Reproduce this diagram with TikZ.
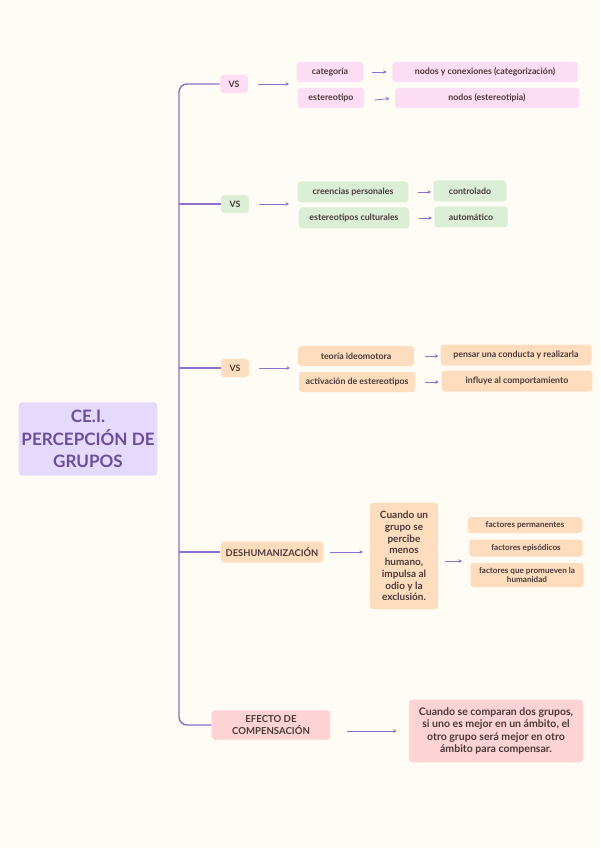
\documentclass[tikz,border=0pt]{standalone}
\usepackage{fontspec}
\setmainfont{Lato}
\usepackage{tikz}
\usetikzlibrary{arrows.meta}

\definecolor{bgcream}{HTML}{FEFCF5}
\definecolor{linec}{HTML}{8F70C8}
\definecolor{txtc}{HTML}{4B3A3A}
\definecolor{titc}{HTML}{6B4E9B}
\definecolor{lavfill}{HTML}{E6DAFC}
\definecolor{pinkfill}{HTML}{FDDDF3}
\definecolor{greenfill}{HTML}{DAEFD6}
\definecolor{peachfill}{HTML}{FDDDBE}
\definecolor{rosefill}{HTML}{FDD3D5}

\begin{document}
\begin{tikzpicture}[
    x=0.75pt, y=-0.75pt,
    every node/.style={font=\bfseries\fontsize{6.6}{8}\selectfont, align=center, text=txtc, inner sep=0pt},
    box/.style={rounded corners=2.5pt, minimum height=15pt},
    pinkbox/.style={box, fill=pinkfill},
    greenbox/.style={box, fill=greenfill},
    peachbox/.style={box, fill=peachfill},
    rosebox/.style={box, fill=rosefill},
    tree/.style={draw=linec, line width=1.1pt, rounded corners=6pt},
    arr/.style={draw=linec, line width=0.6pt, -{Stealth[length=2.6pt,width=2.6pt]}}
]
\useasboundingbox[fill=bgcream] (0,0) rectangle (600,848);

% centro
\node[box, fill=lavfill, minimum width=104pt, minimum height=55pt, text=titc,
      font=\bfseries\fontsize{12.8}{17}\selectfont] (cei) at (88,439) {CE.I.\\PERCEPCIÓN DE\\GRUPOS};

% rama 1
\node[pinkbox, minimum width=21pt, minimum height=13.5pt] (vs1) at (234,84) {VS};
\node[pinkbox, minimum width=50pt] (cat) at (330,72) {categoría};
\node[pinkbox, minimum width=50pt] (est) at (331,98) {estereotipo};
\node[pinkbox, minimum width=139pt] (nyc) at (485,72) {nodos y conexiones (categorización)};
\node[pinkbox, minimum width=138pt] (nes) at (487,98) {nodos (estereotipia)};
\coordinate (g1) at (289,84);

% rama 2
\node[greenbox, minimum width=21pt, minimum height=13.5pt] (vs2) at (235,204) {VS};
\node[greenbox, minimum width=83pt, minimum height=15.75pt] (cre) at (353,192) {creencias personales};
\node[greenbox, minimum width=83pt, minimum height=15.75pt] (ecu) at (354,218) {estereotipos culturales};
\node[greenbox, minimum width=55pt, minimum height=15.75pt] (ctl) at (470,191) {controlado};
\node[greenbox, minimum width=55pt, minimum height=15.75pt] (aut) at (471,217) {automático};
\coordinate (g2) at (289,204);

% rama 3
\node[peachbox, minimum width=21pt, minimum height=13.5pt] (vs3) at (235,368) {VS};
\node[peachbox, minimum width=87pt] (teo) at (356,356) {teoría ideomotora};
\node[peachbox, minimum width=87pt] (act) at (357,382) {activación de estereotipos};
\node[peachbox, minimum width=113pt, minimum height=15.75pt] (pen) at (516,355) {pensar una conducta y realizarla};
\node[peachbox, minimum width=113pt, minimum height=15.75pt] (inf) at (517,381) {influye al comportamiento};
\coordinate (g3) at (290,368);

% rama 4
\node[peachbox, minimum width=77pt, minimum height=15.75pt, font=\bfseries\fontsize{7}{8}\selectfont] (des) at (272,552) {DESHUMANIZACIÓN};
\node[peachbox, minimum width=51pt, minimum height=80pt, font=\bfseries\fontsize{7.5}{8.8}\selectfont] (cua) at (404,556)
    {Cuando un\\grupo se\\percibe\\menos\\humano,\\impulsa al\\odio y la\\exclusión.};
\node[peachbox, minimum width=86pt, minimum height=12pt, font=\bfseries\fontsize{6.1}{7.2}\selectfont] (fpe) at (525,525) {factores permanentes};
\node[peachbox, minimum width=85pt, minimum height=12.75pt, font=\bfseries\fontsize{6.1}{7.2}\selectfont] (fep) at (526,548) {factores episódicos};
\node[peachbox, minimum width=85pt, minimum height=18pt, font=\bfseries\fontsize{6.1}{7.2}\selectfont] (fpr) at (527,575) {factores que promueven la\\humanidad};
\coordinate (g4) at (462,561);

% rama 5
\node[rosebox, minimum width=89pt, minimum height=22pt, font=\bfseries\fontsize{7.2}{8.6}\selectfont] (efe) at (271,725) {EFECTO DE\\COMPENSACIÓN};
\node[rosebox, minimum width=130.5pt, minimum height=47pt, font=\bfseries\fontsize{7.9}{9.4}\selectfont] (com) at (496,731)
    {Cuando se comparan dos grupos,\\si uno es mejor en un ámbito, el\\otro grupo será mejor en otro\\ámbito para compensar.};

% arbol
\coordinate (trunk) at (179,400);
\draw[tree] (vs1.west) -| (trunk) |- (efe.west);
\draw[tree] (vs2.west) -- (vs2.west -| trunk);
\draw[tree] (vs3.west) -- (vs3.west -| trunk);
\draw[tree] (des.west) -- (des.west -| trunk);

% flechas
\draw[arr, shorten <=7.5pt] (vs1) -- (g1);
\draw[arr, shorten <=6pt, shorten >=4pt] (cat) -- (cat -| nyc.west);
\draw[arr, shorten <=7.5pt, shorten >=4pt] (est.east) ++(0,3) -- (est.east -| nes.west);
\draw[arr, shorten <=7pt] (vs2) -- (g2);
\draw[arr, shorten <=7pt, shorten >=1.5pt] (cre) -- (cre -| ctl.west);
\draw[arr, shorten <=7pt, shorten >=1.5pt] (ecu) -- (ecu -| aut.west);
\draw[arr, shorten <=7.5pt] (vs3) -- (g3);
\draw[arr, shorten <=8pt, shorten >=1.5pt] (teo) -- (teo -| pen.west);
\draw[arr, shorten <=7.5pt, shorten >=2pt] (act) -- (act -| inf.west);
\draw[arr, shorten <=4.5pt, shorten >=5pt] (des) -- (des -| cua.west);
\draw[arr, shorten <=5pt] (cua.east |- g4) -- (g4);
\draw[arr, shorten <=12pt, shorten >=9pt] (efe.east |- com) -- (com);
\end{tikzpicture}
\end{document}
